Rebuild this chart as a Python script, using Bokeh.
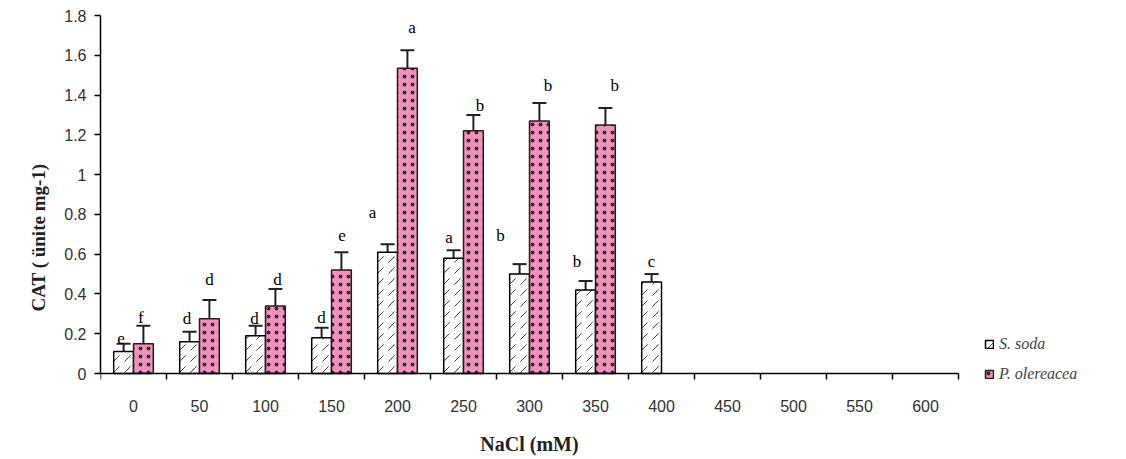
import numpy as np
from bokeh.plotting import figure
from bokeh.models import (ColumnDataSource, Whisker, TeeHead, FixedTicker, Legend, LegendItem, Range1d)
from bokeh.core.properties import value
from bokeh.embed import file_html
from bokeh.resources import INLINE

# ---- data ----
nacl = ["0", "50", "100", "150", "200", "250", "300", "350", "400", "450", "500", "550", "600"]
s_soda = [0.11, 0.16, 0.19, 0.18, 0.61, 0.58, 0.50, 0.42, 0.46]
s_soda_err = [0.04, 0.05, 0.05, 0.05, 0.04, 0.04, 0.05, 0.045, 0.04]
s_soda_letters = ["e", "d", "d", "d", "a", "a", "b", "b", "c"]
p_oleracea = [0.15, 0.275, 0.34, 0.52, 1.535, 1.22, 1.27, 1.25]
p_oleracea_err = [0.09, 0.095, 0.085, 0.09, 0.09, 0.08, 0.09, 0.085]
p_oleracea_letters = ["f", "d", "d", "e", "a", "b", "b", "b"]

# letter annotation placement (data units)
s_lab_y = [0.176, 0.278, 0.278, 0.283, 0.811, 0.685, 0.694, 0.565, 0.565]
s_lab_dx = [-0.04, -0.04, -0.015, 0.0, -0.23, -0.07, -0.29, -0.13, 0.0]
p_lab_y = [0.283, 0.471, 0.471, 0.694, 1.738, 1.347, 1.448, 1.448]
p_lab_dx = [-0.04, 0.0, 0.03, 0.01, 0.07, 0.10, 0.13, 0.14]

BW = 0.3
OFF = 0.15
N = len(nacl)
centers = np.arange(N) + 0.5

s_x = centers[:len(s_soda)] - OFF
p_x = centers[:len(p_oleracea)] + OFF

src_s = ColumnDataSource(dict(
    x=s_x, top=s_soda,
    lo=np.array(s_soda) - np.array(s_soda_err),
    hi=np.array(s_soda) + np.array(s_soda_err),
    lx=s_x + np.array(s_lab_dx), ly=s_lab_y, lab=s_soda_letters))
src_p = ColumnDataSource(dict(
    x=p_x, top=p_oleracea,
    lo=np.array(p_oleracea) - np.array(p_oleracea_err),
    hi=np.array(p_oleracea) + np.array(p_oleracea_err),
    lx=p_x + np.array(p_lab_dx), ly=p_lab_y, lab=p_oleracea_letters))

S_STYLE = dict(fill_color="white", line_color="black", line_width=1.5,
               hatch_pattern="right_diagonal_dash", hatch_color="#444444",
               hatch_scale=11, hatch_weight=1)
P_STYLE = dict(fill_color="#F290C0", line_color="#2a1a1a", line_width=1.5,
               hatch_pattern="dot", hatch_color="#3a2a2a",
               hatch_scale=8, hatch_weight=1.2)

# frame: x from 100 to 1126 px (66 px per category), y: 1.8 at 15 px, 0 at 373 px, bottom at 459 px
PX_CAT = 66.0
PX_UNIT = 358 / 1.8
X_END = (1126 - 100) / PX_CAT
Y_START = -(459 - 373) / PX_UNIT

p = figure(width=1126, height=459, output_backend="svg", toolbar_location=None,
           x_range=Range1d(0, X_END), y_range=Range1d(Y_START, 1.8),
           min_border_left=100, min_border_top=15, min_border_right=0, min_border_bottom=0)
p.outline_line_color = None
p.xgrid.grid_line_color = None
p.ygrid.grid_line_color = None
p.background_fill_color = "white"
p.border_fill_color = "white"

r_s = p.vbar(x="x", top="top", width=BW, bottom=0, source=src_s, **S_STYLE)
r_p = p.vbar(x="x", top="top", width=BW, bottom=0, source=src_p, **P_STYLE)

for src in (src_s, src_p):
    w = Whisker(base="x", upper="hi", lower="lo", source=src,
                line_color="#222222", line_width=2,
                upper_head=TeeHead(size=14, line_color="#222222", line_width=2),
                lower_head=TeeHead(size=14, line_color="#222222", line_width=2))
    p.add_layout(w)
    p.text(x="lx", y="ly", text="lab", source=src, text_align="center",
           text_baseline="middle", text_font=value("Liberation Serif"),
           text_font_size="17px", text_color="black")

# axes
p.xaxis.fixed_location = 0
p.xaxis.bounds = (0, N)
p.xaxis.ticker = FixedTicker(ticks=list(centers), minor_ticks=list(range(N + 1)))
p.xaxis.major_label_overrides = {float(c): n for c, n in zip(centers, nacl)}
p.xaxis.major_tick_line_color = None
p.xaxis.minor_tick_in = 0
p.xaxis.minor_tick_out = 6
p.xaxis.minor_tick_line_color = "black"
p.xaxis.minor_tick_line_width = 1.5
p.xaxis.major_label_standoff = 20
p.xaxis.axis_label = "NaCl (mM)"
p.xaxis.axis_label_standoff = 18

p.yaxis.bounds = (0, 1.8)
p.yaxis.ticker = FixedTicker(ticks=[0, 0.2, 0.4, 0.6, 0.8, 1.0, 1.2, 1.4, 1.6, 1.8])
p.yaxis.major_label_overrides = {0: "0", 1: "1", 0.2: "0.2", 0.4: "0.4", 0.6: "0.6", 0.8: "0.8",
                                 1.2: "1.2", 1.4: "1.4", 1.6: "1.6", 1.8: "1.8"}
p.yaxis.minor_tick_line_color = None
p.yaxis.major_tick_in = 0
p.yaxis.major_tick_out = 6
p.yaxis.major_label_standoff = 8
p.yaxis.axis_label = "CAT ( ünite mg-1)"
p.yaxis.axis_label_standoff = 12

for ax in (p.xaxis[0], p.yaxis[0]):
    ax.axis_line_color = "black"
    ax.axis_line_width = 1.5
    ax.major_tick_line_width = 1.5
    ax.major_label_text_font = "Liberation Sans"
    ax.major_label_text_font_size = "16px"
    ax.major_label_text_color = "#333333"
    ax.axis_label_text_font = "Liberation Serif"
    ax.axis_label_text_font_style = "bold"
    ax.axis_label_text_color = "#222222"
p.xaxis.axis_label_text_font_size = "20px"
p.yaxis.axis_label_text_font_size = "19px"

legend = Legend(items=[LegendItem(label="S. soda", renderers=[r_s]),
                       LegendItem(label="P. olereacea", renderers=[r_p])],
                location=(884, 75), orientation="vertical",
                label_text_font="Liberation Serif", label_text_font_style="italic",
                label_text_font_size="16px", glyph_width=10, glyph_height=10,
                label_height=20, spacing=10, padding=10, label_standoff=5,
                border_line_color=None, background_fill_alpha=0)
p.add_layout(legend, "center")

open("out.html", "w").write(file_html(p, INLINE))
